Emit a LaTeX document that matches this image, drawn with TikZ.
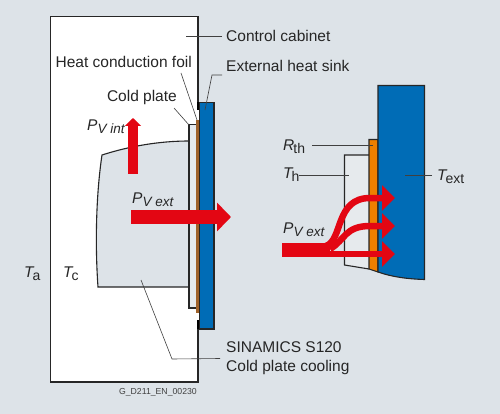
\documentclass[tikz,border=0pt]{standalone}
\usepackage{fontspec}
\setmainfont{Liberation Sans}
\usetikzlibrary{arrows.meta,positioning}
\definecolor{panelgrey}{RGB}{221,227,232}
\definecolor{sinkblue}{RGB}{0,108,182}
\definecolor{heatred}{RGB}{227,6,19}
\definecolor{foilbrown}{RGB}{160,98,42}
\definecolor{foilorange}{RGB}{238,127,0}
\definecolor{platewhite}{RGB}{230,234,237}
\newcommand{\pv}[1]{{\itshape P\raisebox{-3pt}{\fontsize{13.5}{16}\selectfont V #1}}}
\newcommand{\tsub}[2]{{\itshape #1}\kern-1pt\raisebox{-3pt}{\fontsize{14}{16}\selectfont #2}}

\begin{document}
\begin{tikzpicture}[
    x=1pt, y=-1pt,
    txt/.style={font=\fontsize{15.5}{19}\selectfont, inner sep=0pt, text=black!85},
    leader/.style={draw=black!75, line width=0.6pt},
    outline/.style={draw=black!85, line width=1.1pt},
    heat/.style={draw=heatred, line width=14pt, -{Triangle[length=14pt,width=28pt]}},
    heatthin/.style={draw=heatred, line width=6.5pt, -{Triangle[length=13pt,width=25pt]}}
]
    \useasboundingbox (0,0) rectangle (500,414);
    \fill[panelgrey] (0,0) rectangle (500,414);

    % Control cabinet
    \draw[outline, fill=white] (50.5,16.5) rectangle (198,382);
    \fill[white] (195,110) rectangle (199.5,320);
    \draw[black, line width=2pt] (198,102) -- (198,110);
    \draw[black, line width=2pt] (198,320) -- (198,329);

    % Device and cold plate
    \draw[outline, fill=panelgrey] (189,141) .. controls (160,141) and (130,146) .. (102,155)
        .. controls (96,195) and (95,245) .. (98,287) -- (189,287);
    \draw[outline, fill=platewhite] (196,124.5) -- (189,124.5) -- (189,308) -- (196,308);
    \fill[foilbrown] (196,120) rectangle (199.5,313);
    \draw[black!85, line width=1.1pt, fill=sinkblue] (199.5,102.5) rectangle (214,329);

    % Detail on the right
    \draw[outline, fill=platewhite] (369,155) -- (344.5,155) -- (344.5,265) -- (369,269);
    \draw[outline, fill=foilorange] (369,139.5) -- (378,139.5) -- (378,272) -- (369,269) -- cycle;
    \draw[outline, fill=sinkblue] (378,85.5) -- (424.5,85.5) -- (424.5,279.5)
        .. controls (408,279) and (392,277) .. (378,272) -- cycle;

    % Leader ends
    \coordinate (cabinetend) at (186,36);
    \coordinate (sinkend) at (205,110);
    \coordinate (foilend) at (197,120);
    \coordinate (plateend) at (189,125);
    \coordinate (deviceend) at (141,280);
    \coordinate (rthend) at (373,145);
    \coordinate (thend) at (349,175);
    \coordinate (textend) at (405,175);

    % Labels
    \node[txt, anchor=west] (cabinet) at (226,36) {Control cabinet};
    \node[txt, anchor=west] (sink) at (226,66) {External heat sink};
    \node[txt, anchor=east] (foil) at (192,62) {Heat conduction foil};
    \node[txt, anchor=east] (plate) at (177,97) {Cold plate};
    \node[txt, anchor=west, align=left] (device) at (226,358.5) {SINAMICS S120\\Cold plate cooling};
    \node[font=\fontsize{8.7}{10}\selectfont, inner sep=0pt, text=black!75, anchor=east] (code) at (197,392) {G\_D211\_EN\_00230};
    \node[txt, anchor=west] (ta) at (24,274) {\tsub{T}{a}};
    \node[txt, anchor=west] (tc) at (63,274) {\tsub{T}{c}};
    \node[txt, anchor=west] (pvint) at (87,127) {\pv{int}};
    \node[txt, anchor=west] (pvext) at (132,200) {\pv{ext}};
    \node[txt, anchor=west] (rth) at (283,147) {\tsub{R}{th}};
    \node[txt, anchor=west] (th) at (283,175) {\tsub{T}{h}};
    \node[txt, anchor=west] (text) at (437,177) {\tsub{T}{ext}};
    \node[txt, anchor=west] (pvdetail) at (283,230) {\pv{ext}};

    % Leaders
    \draw[leader] (cabinet.west) ++(-4,0) -- (cabinetend);
    \draw[leader] (sink.west) ++(-4,9) -- ++(-10,0) -- (sinkend);
    \draw[leader] (181,73) -- (foilend);
    \draw[leader] (174,108) -- (plateend);
    \draw[leader] (device.west) ++(-6,0) -- (172,359) -- (deviceend);
    \draw[leader] (312,145) -- (rthend);
    \draw[leader] (299,175) -- (thend);
    \draw[leader] (text.west) ++(-5,-2) -- (textend);

    % Heat flow
    \coordinate (vstart) at (133,174);
    \coordinate (vtip) at (133,118);
    \draw[draw=heatred, line width=9.5pt, -{Triangle[length=8pt,width=16pt]}] (vstart) -- (vtip);
    \coordinate (hstart) at (131,217);
    \coordinate (htip) at (231,217);
    \draw[heat] (hstart) -- (htip);

    \coordinate (barstart) at (282,250);
    \coordinate (barend) at (330,250);
    \draw[draw=heatred, line width=14pt] (barstart) -- (barend);
    \draw[heatthin] (326,246) .. controls (343,240) and (335,198) .. (370,198) -- (395,198);
    \draw[heatthin] (330,249) .. controls (345,240) and (345,226) .. (370,226) -- (395,226);
    \draw[heatthin] (325,254) -- (395,254);
\end{tikzpicture}
\end{document}
